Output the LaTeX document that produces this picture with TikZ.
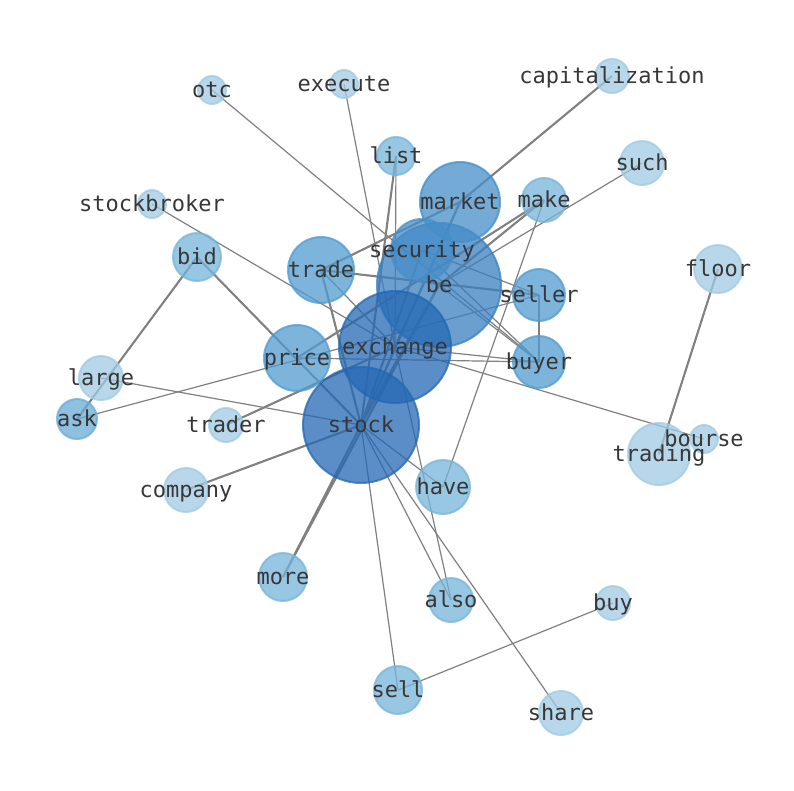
\documentclass[tikz,border=0pt]{standalone}
\usepackage{fontspec}
\newfontfamily\monofont{DejaVu Sans Mono}
\definecolor{cA}{RGB}{36,104,179}
\definecolor{cB}{RGB}{56,127,191}
\definecolor{cC}{RGB}{70,142,200}
\definecolor{cD}{RGB}{80,155,208}
\definecolor{cE}{RGB}{118,180,218}
\definecolor{cF}{RGB}{104,172,214}
\definecolor{cG}{RGB}{160,202,227}
\definecolor{edgec}{RGB}{128,128,128}
\definecolor{txt}{RGB}{55,55,55}
\begin{document}
\begin{tikzpicture}[x=1pt,y=-1pt,
  nd/.style={circle, inner sep=0pt, fill opacity=0.75, draw opacity=0.75, line width=2pt},
  lbl/.style={font=\monofont\fontsize{22}{26}\selectfont, text=txt, inner sep=0pt, text height=0.76em, text depth=0.24em, yshift=-5pt},
  ethin/.style={draw=edgec, line width=1.2pt},
  ethick/.style={draw=edgec, line width=2.1pt}]
\useasboundingbox (0,0) rectangle (794,790);
\def\nodelist{otc/212/90/14/cG, execute/344/84/14/cG, capitalization/612/76/17/cG,
 list/396/156/19/cE, such/642/163/22/cG, make/544/200/22/cE, stockbroker/152/204/14/cG,
 floor/718/269/24/cG, bid/197/257/24/cE, be/439/285/62/cB, market/460/202/40/cC,
 security/422/250/31/cC, trade/321/270/33/cD, seller/539/295/26/cD, price/297/358/33/cD,
 buyer/539/362/26/cD, exchange/395/347/56/cA, large/101/378/22/cG, ask/77/419/20/cF,
 trader/226/425/17/cG, stock/361/425/58/cA, bourse/704/439/14/cG, trading/659/454/31/cG,
 have/443/487/27/cE, company/186/490/22/cG, more/283/577/24/cE, also/451/600/22/cE,
 buy/613/603/17/cG, sell/398/690/24/cE, share/561/713/22/cG}
\foreach \n/\x/\y/\r/\c in \nodelist { \coordinate (\n) at (\x,\y); }
% edges
\foreach \a/\b in {otc/buyer, execute/exchange, stockbroker/exchange, list/exchange,
  security/seller, security/buyer, be/buyer, exchange/buyer, price/buyer, ask/seller,
  large/stock, exchange/bourse, make/have, stock/have, stock/also, also/exchange,
  stock/share, stock/sell, sell/buy, seller/buyer, such/be, trade/exchange}
  { \draw[ethin] (\a) -- (\b); }
\foreach \a/\b in {capitalization/market, list/stock, trade/market, trade/seller,
  trade/stock, bid/stock, bid/ask, trader/exchange, company/stock, more/stock, more/be,
  floor/trading, make/price, make/be, market/stock, market/exchange, stock/be, stock/security}
  { \draw[ethick] (\a) -- (\b); }
% nodes
\foreach \n/\x/\y/\r/\c in \nodelist
  { \node[nd, fill=\c, draw=\c, minimum size={2*\r pt}] (c-\n) at (\n) {}; }
% labels
\foreach \n/\x/\y/\r/\c in \nodelist
  { \node[lbl] (l-\n) at (\n) {\n}; }
\end{tikzpicture}
\end{document}
